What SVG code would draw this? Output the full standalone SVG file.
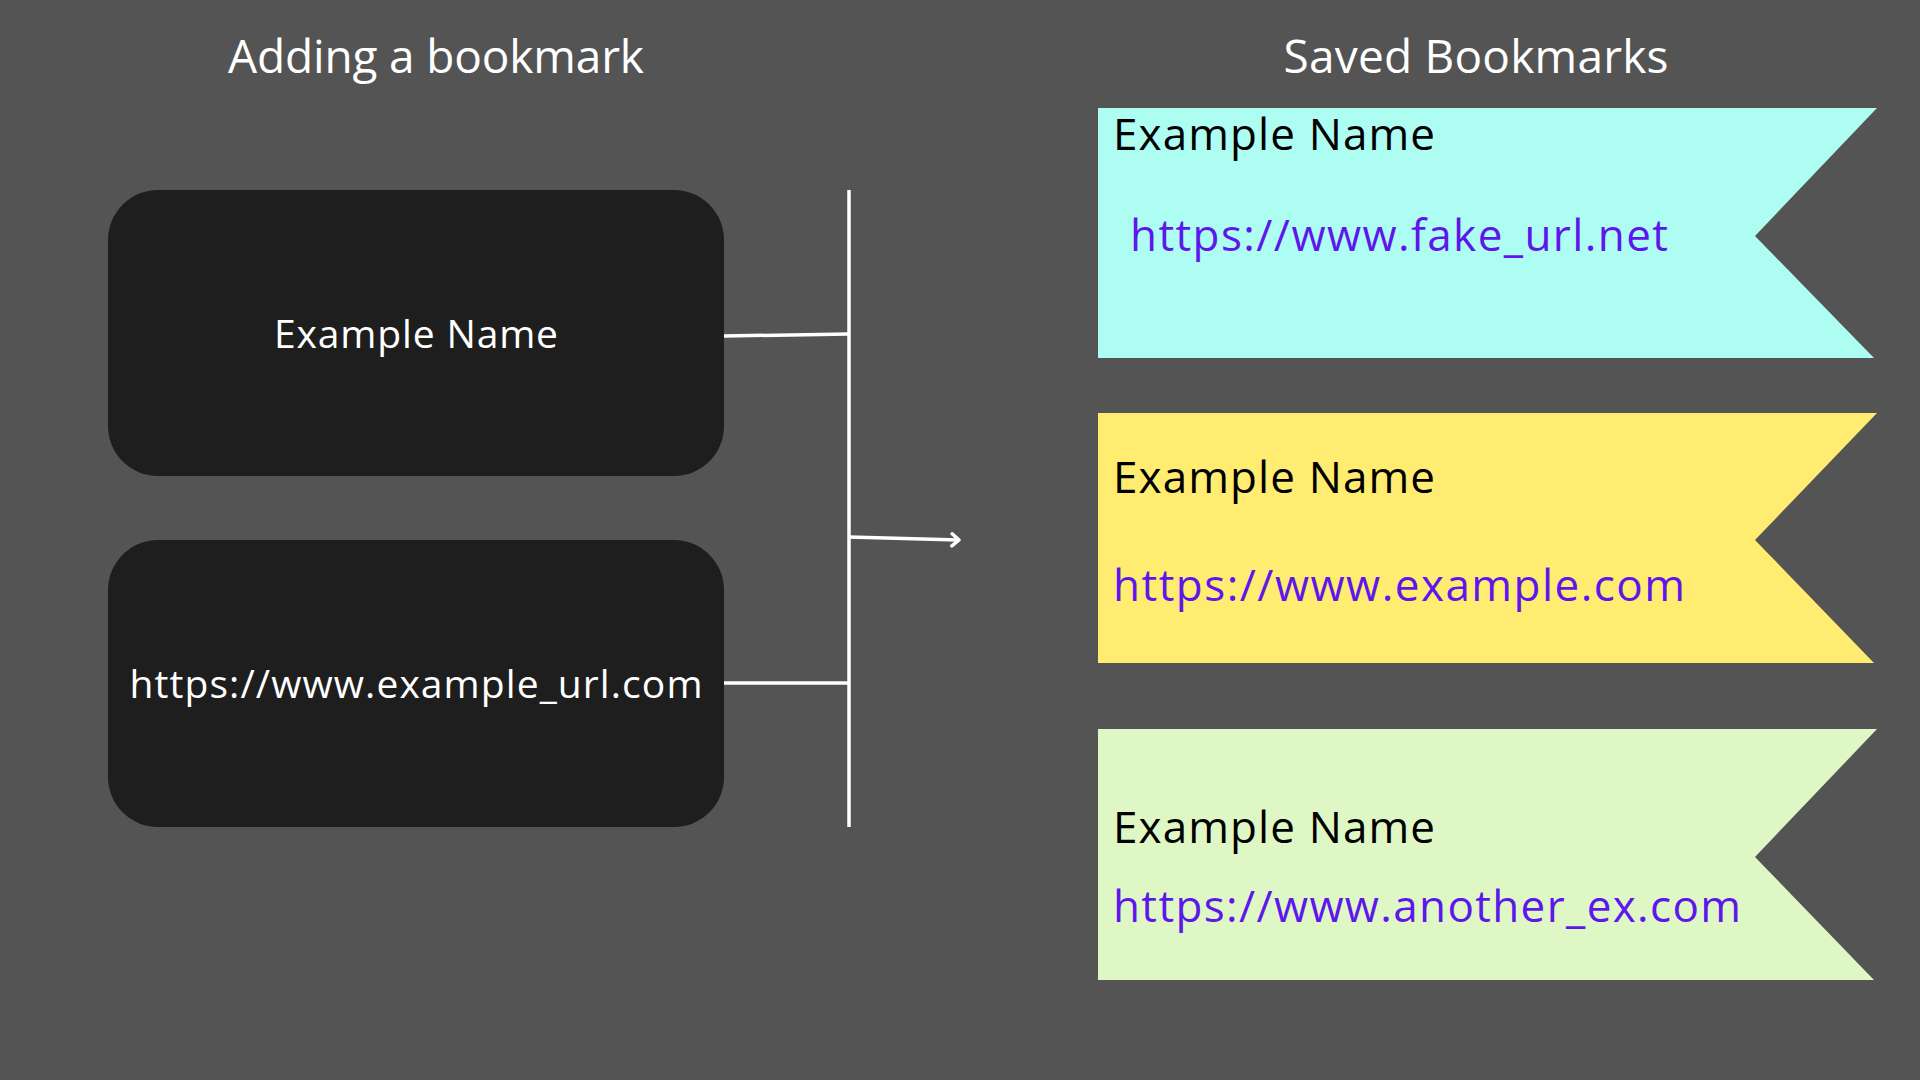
<svg xmlns="http://www.w3.org/2000/svg" width="1920" height="1080" viewBox="0 0 1920 1080">
  <style>
    .title { font-family: "Open Sans", "Noto Sans", sans-serif; font-size: 46px; fill: #ffffff; text-anchor: middle; }
    .boxtxt { font-family: "Open Sans", "Noto Sans", sans-serif; font-size: 39px; fill: #ffffff; text-anchor: middle; }
    .name { font-family: "Open Sans", "Noto Sans", sans-serif; font-size: 44px; fill: #000000; }
    .url { font-family: "Open Sans", "Noto Sans", sans-serif; font-size: 44px; fill: #5e17eb; }
    .box { fill: #1e1e1e; }
    .conn { stroke: #ffffff; stroke-width: 3.5; fill: none; }
  </style>
  <defs>
    <marker id="arrow" viewBox="0 0 14 16" refX="11" refY="8" markerWidth="14" markerHeight="16" markerUnits="userSpaceOnUse" orient="auto">
      <path d="M4,2 L11,8 L4,14" fill="none" stroke="#ffffff" stroke-width="3.5" stroke-linecap="round" stroke-linejoin="round"/>
    </marker>
  </defs>
  <rect width="1920" height="1080" fill="#545454"/>

  <text class="title" x="436" y="73" textLength="416" lengthAdjust="spacing">Adding a bookmark</text>
  <text class="title" x="1476" y="73" textLength="385" lengthAdjust="spacing">Saved Bookmarks</text>

  <g id="input-name">
    <rect class="box" x="108" y="190" width="616" height="286" rx="50" ry="50"/>
    <text class="boxtxt" x="416" y="348" textLength="284" lengthAdjust="spacing">Example Name</text>
  </g>
  <g id="input-url">
    <rect class="box" x="108" y="540" width="616" height="287" rx="50" ry="50"/>
    <text class="boxtxt" x="416" y="698" textLength="573" lengthAdjust="spacing">https://www.example_url.com</text>
  </g>

  <g id="connectors">
    <line class="conn" x1="849" y1="190" x2="849" y2="827"/>
    <line class="conn" x1="724" y1="336" x2="849" y2="334"/>
    <line class="conn" x1="724" y1="683" x2="849" y2="683"/>
    <line class="conn" x1="849" y1="537" x2="959" y2="540" marker-end="url(#arrow)"/>
  </g>

  <g id="bookmark-1">
    <polygon points="1098,108 1877,108 1755,236 1874,358 1098,358" fill="#aefdf3"/>
    <text class="name" x="1113" y="150" textLength="322" lengthAdjust="spacing">Example Name</text>
    <text class="url" x="1130" y="251" textLength="538" lengthAdjust="spacing">https://www.fake_url.net</text>
  </g>
  <g id="bookmark-2">
    <polygon points="1098,413 1877,413 1755,540 1874,663 1098,663" fill="#ffec70"/>
    <text class="name" x="1113" y="493" textLength="322" lengthAdjust="spacing">Example Name</text>
    <text class="url" x="1113" y="601" textLength="572" lengthAdjust="spacing">https://www.example.com</text>
  </g>
  <g id="bookmark-3">
    <polygon points="1098,729 1877,729 1755,857 1874,980 1098,980" fill="#dff7c5"/>
    <text class="name" x="1113" y="843" textLength="322" lengthAdjust="spacing">Example Name</text>
    <text class="url" x="1113" y="922" textLength="628" lengthAdjust="spacing">https://www.another_ex.com</text>
  </g>
</svg>
